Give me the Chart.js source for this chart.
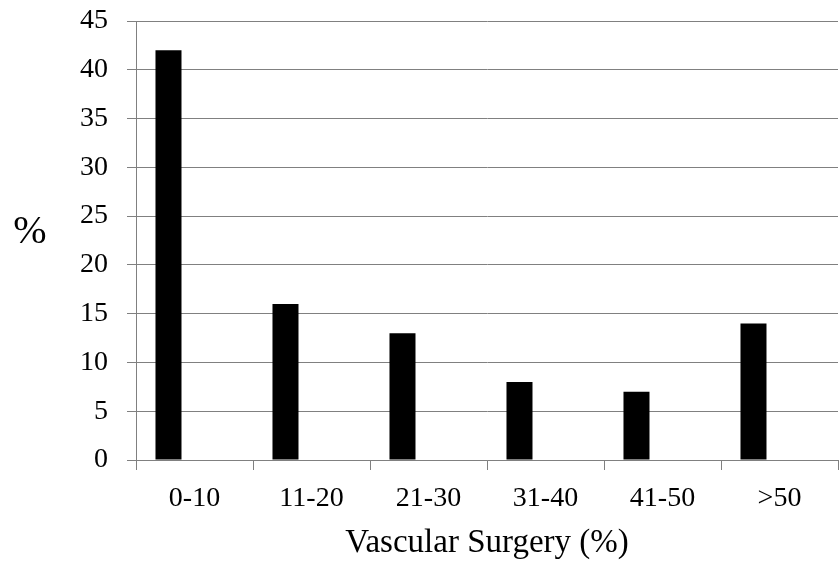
<!DOCTYPE html>
<html>
<head>
<meta charset="utf-8">
<script src="https://cdn.jsdelivr.net/npm/chart.js@4/dist/chart.umd.min.js"></script>
<style>
  html,body{margin:0;padding:0;background:#fff;}
  #wrap{width:839px;height:567px;position:relative;}
</style>
</head>
<body>
<div id="wrap"><canvas id="c"></canvas></div>
<script>
// data
const categories = ['0-10','11-20','21-30','31-40','41-50','>50'];
const pctValues = [42, 16, 13, 8, 7, 14];
const emptySeries = [null, null, null, null, null, null];
const yTicks = [0,5,10,15,20,25,30,35,40,45];

const SERIF = "'Liberation Serif', 'Times New Roman', serif";

// "%" label sits horizontal left of the axis, chart.js would rotate it
const yLabelPlugin = {
  id: 'yLabel',
  afterDraw(chart) {
    const ctx = chart.ctx;
    ctx.save();
    ctx.font = '40px ' + SERIF;
    ctx.fillStyle = '#000';
    ctx.textAlign = 'center';
    ctx.textBaseline = 'middle';
    ctx.fillText('%', 30, 232);
    ctx.restore();
  }
};

new Chart(document.getElementById('c'), {
  type: 'bar',
  data: {
    labels: categories,
    datasets: [
      { data: pctValues, backgroundColor: '#000', borderWidth: 0 },
      { data: emptySeries, backgroundColor: '#000' },
      { data: emptySeries, backgroundColor: '#000' }
    ]
  },
  options: {
    responsive: true,
    maintainAspectRatio: false,
    animation: false,
    barPercentage: 1,
    categoryPercentage: 0.667,
    layout: { padding: { top: 21, right: 1, bottom: 0, left: 0 } },
    plugins: { legend: { display: false }, tooltip: { enabled: false } },
    scales: {
      x: {
        grid: { drawOnChartArea: false, drawTicks: true, tickLength: 10, color: '#808080', offset: true },
        border: { color: '#808080' },
        ticks: { color: '#000', font: { family: SERIF, size: 28 }, padding: 12, maxRotation: 0 },
        title: { display: true, text: 'Vascular Surgery (%)', color: '#000', font: { family: SERIF, size: 33 }, padding: { top: 4, bottom: 4 } },
        afterFit(s) { s.height = 107; }
      },
      y: {
        min: 0, max: 45,
        afterBuildTicks(s) { s.ticks = yTicks.map(v => ({ value: v })); },
        grid: { color: '#808080', tickLength: 9 },
        border: { color: '#808080' },
        ticks: { color: '#000', font: { family: SERIF, size: 28 }, padding: 19 },
        afterFit(s) { s.width = 136; s.paddingTop = 0; s.paddingBottom = 0; }
      }
    }
  },
  plugins: [yLabelPlugin]
});
</script>
</body>
</html>
